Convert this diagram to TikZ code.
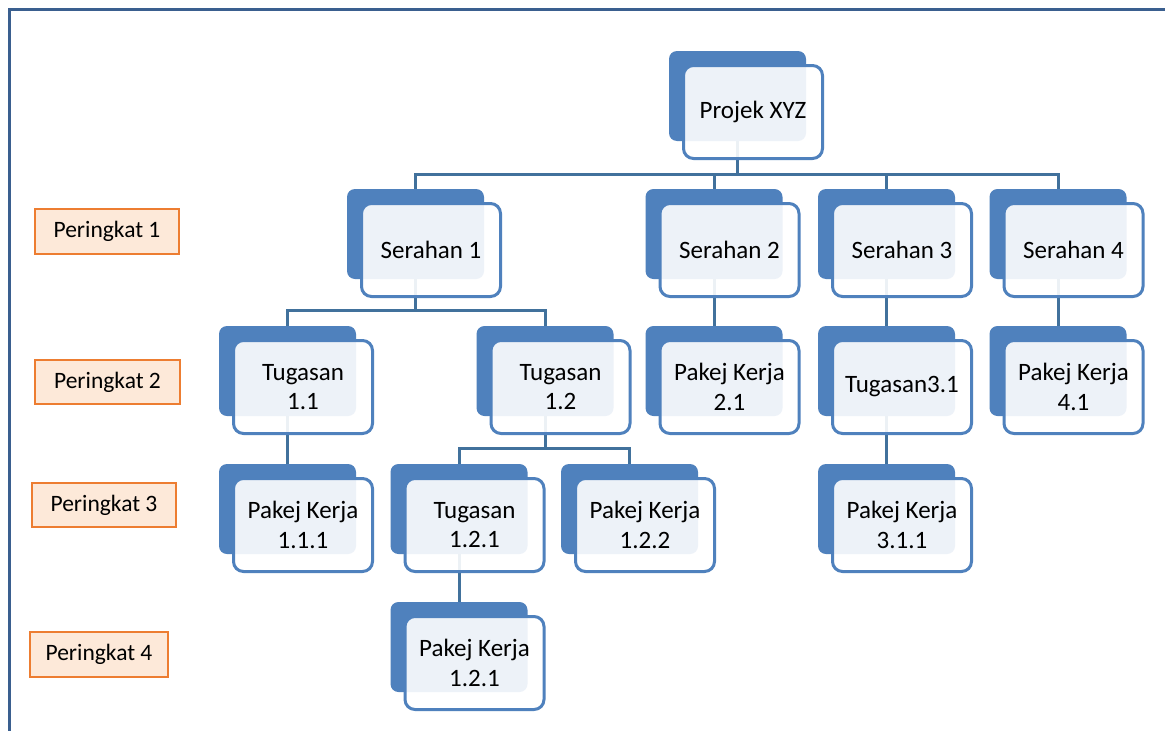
\documentclass[tikz,border=0pt]{standalone}
\usepackage{fontspec}
\setmainfont{Carlito}
\definecolor{bk}{HTML}{4F81BD}
\definecolor{cn}{HTML}{41719C}
\definecolor{fr}{HTML}{3A5F8F}
\definecolor{og}{HTML}{ED7D31}
\definecolor{pe}{HTML}{FDE9D9}
\tikzset{
 backbox/.style={fill=bk, rounded corners=8pt, minimum width=137pt, minimum height=90pt, inner sep=0pt},
 frontbox/.style={draw=bk, line width=3pt, fill=white, fill opacity=0.9, text opacity=1, rounded corners=10pt, minimum width=139pt, minimum height=93pt, align=center, font=\fontsize{25}{29.5}\selectfont, text=black, inner sep=0pt},
 conn/.style={draw=cn, line width=3pt},
 lvl/.style={draw=og, line width=1.5pt, fill=pe, inner sep=0pt, font=\fontsize{23.5}{27}\selectfont, text=black},
 frameline/.style={draw=fr, line width=2.5pt},
}
\newcommand\backat[3]{\node[backbox] (#1b) at (#2, #3+45) {};}
\newcommand\frontat[4]{\node[frontbox] (#1) at (#2+15.5, #3+61) {#4};}
\begin{document}
\begin{tikzpicture}[x=1pt, y=-1pt]
\useasboundingbox (0,0) rectangle (1165,731);
\fill[white] (0,0) rectangle (1165,731);
% frame
\draw[frameline] (1175,9.5) -- (9.5,9.5) -- (9.5,741);
% level labels
\node[lvl, minimum width=144pt, minimum height=45pt] (l1) at (107,231.5) {Peringkat 1\hspace{8pt}};
\node[lvl, minimum width=145pt, minimum height=44pt] (l2) at (107.5,382) {Peringkat 2\hspace{8pt}};
\node[lvl, minimum width=144pt, minimum height=44pt] (l3) at (104,505) {Peringkat 3\hspace{8pt}};
\node[lvl, minimum width=138pt, minimum height=45pt] (l4) at (99,654.5) {Peringkat 4\hspace{8pt}};
% back boxes
\backat{p}{737.5}{51}
\backat{s1}{415.5}{189}
\backat{s2}{714}{189}
\backat{s3}{886.5}{189}
\backat{s4}{1058}{189}
\backat{t11}{287.5}{326}
\backat{t12}{545}{326}
\backat{k21}{714}{326}
\backat{t31}{886.5}{326}
\backat{k41}{1058}{326}
\backat{k111}{287.5}{464}
\backat{t121}{459}{464}
\backat{k122}{629.5}{464}
\backat{k311}{886.5}{464}
\backat{k121}{459}{602}
% connectors
\foreach \c in {s1b,s2b,s3b,s4b}{\draw[conn] (pb.south) -- ++(0,33) -| (\c.north);}
\foreach \c in {t11b,t12b}{\draw[conn] (s1b.south) -- ++(0,31) -| (\c.north);}
\foreach \c in {t121b,k122b}{\draw[conn] (t12b.south) -- ++(0,32) -| (\c.north);}
\draw[conn] (s2b.south) -- (k21b.north);
\draw[conn] (s3b.south) -- (t31b.north);
\draw[conn] (s4b.south) -- (k41b.north);
\draw[conn] (t11b.south) -- (k111b.north);
\draw[conn] (t31b.south) -- (k311b.north);
\draw[conn] (t121b.south) -- (k121b.north);
% front boxes
\frontat{p}{737.5}{51}{Projek XYZ}
\frontat{s1}{415.5}{189}{Serahan 1}
\frontat{s2}{714}{189}{Serahan 2}
\frontat{s3}{886.5}{189}{Serahan 3}
\frontat{s4}{1058}{189}{Serahan 4}
\frontat{t11}{287.5}{326}{Tugasan\\1.1}
\frontat{t12}{545}{326}{Tugasan\\1.2}
\frontat{k21}{714}{326}{Pakej Kerja\\2.1}
\frontat{t31}{886.5}{326}{Tugasan3.1}
\frontat{k41}{1058}{326}{Pakej Kerja\\4.1}
\frontat{k111}{287.5}{464}{Pakej Kerja\\1.1.1}
\frontat{t121}{459}{464}{Tugasan\\1.2.1}
\frontat{k122}{629.5}{464}{Pakej Kerja\\1.2.2}
\frontat{k311}{886.5}{464}{Pakej Kerja\\3.1.1}
\frontat{k121}{459}{602}{Pakej Kerja\\1.2.1}
\end{tikzpicture}
\end{document}
